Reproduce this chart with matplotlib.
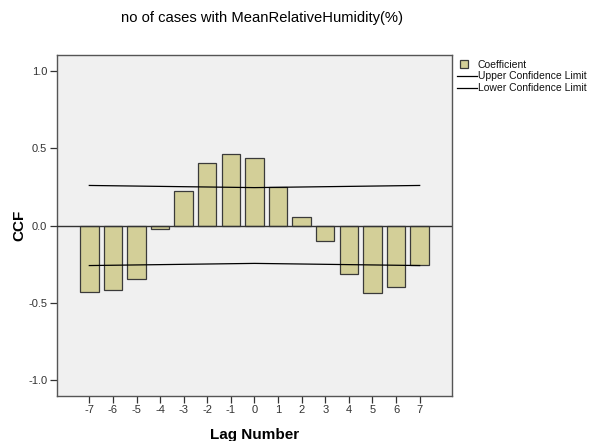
import matplotlib
matplotlib.use('Agg')
import matplotlib.pyplot as plt
from matplotlib.patches import Rectangle
from matplotlib.lines import Line2D

lags = [-7, -6, -5, -4, -3, -2, -1, 0, 1, 2, 3, 4, 5, 6, 7]
ccf = [-0.433, -0.42, -0.348, -0.022, 0.222, 0.403, 0.466, 0.436,
       0.253, 0.057, -0.098, -0.316, -0.436, -0.399, -0.259]
upper = [0.260, 0.258, 0.256, 0.254, 0.252, 0.250, 0.248, 0.246,
         0.248, 0.250, 0.252, 0.254, 0.256, 0.258, 0.260]
lower = [-u for u in upper]
yticks = [-1.0, -0.5, 0.0, 0.5, 1.0]
legend_labels = ['Coefficient', 'Upper Confidence Limit', 'Lower Confidence Limit']

plt.rcParams['font.family'] = ['Liberation Sans', 'DejaVu Sans']

fig = plt.figure(figsize=(5.96, 4.41), dpi=100)
ax = fig.add_axes([0.0956, 0.1027, 0.6628, 0.7719])
ax.set_facecolor('#f0f0f0')

ax.bar(lags, ccf, width=0.78, color='#d3cf98', edgecolor='#3a3a3a', linewidth=0.9, zorder=2)
ax.axhline(0, color='#333333', linewidth=1.0, zorder=3)
ax.plot(lags, upper, color='black', linewidth=0.9, zorder=4)
ax.plot(lags, lower, color='black', linewidth=0.9, zorder=4)

ax.set_xlim(-8.37, 8.37)
ax.set_ylim(-1.105, 1.105)
ax.set_xticks(lags)
ax.set_xticklabels([str(l) for l in lags])
ax.set_yticks(yticks)
ax.set_yticklabels(['%.1f' % t for t in yticks])
ax.tick_params(axis='both', direction='out', length=5, width=0.9, color='#333333',
               labelsize=8, labelcolor='#333333', pad=2)
for s in ax.spines.values():
    s.set_color('#555555')
    s.set_linewidth(1.0)

ax.set_xlabel('Lag Number', fontsize=11, fontweight='bold', labelpad=9)
ax.set_ylabel('CCF', fontsize=11, fontweight='bold', labelpad=1)
fig.text(0.439, 0.96, 'no of cases with MeanRelativeHumidity(%)', ha='center', va='center',
         fontsize=10.6)

# legend drawn by hand, SPSS style
fig.add_artist(Rectangle((0.7718, 0.8458), 0.0134, 0.01746, transform=fig.transFigure,
                         facecolor='#d3cf98', edgecolor='#3a3a3a', linewidth=0.9))
for yy in (0.8277, 0.8011):
    fig.add_artist(Line2D([0.7663, 0.7998], [yy, yy], transform=fig.transFigure,
                          color='black', linewidth=0.9))
for yy, lab in zip((0.8533, 0.8277, 0.8011), legend_labels):
    fig.text(0.802, yy, lab, ha='left', va='center', fontsize=7.5, color='#111111')

fig.savefig('out.png', dpi=100)
